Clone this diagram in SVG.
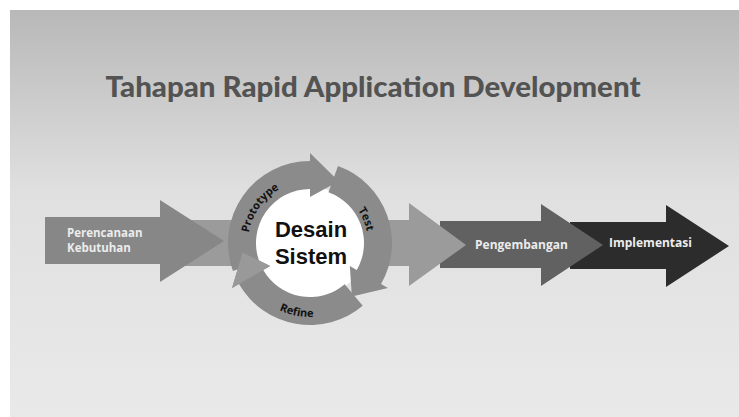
<svg xmlns="http://www.w3.org/2000/svg" width="739" height="417" viewBox="0 0 739 417">
  <defs>
    <linearGradient id="bg" x1="0" y1="0" x2="0" y2="1">
      <stop offset="0" stop-color="#b8b8b8"/>
      <stop offset="0.45" stop-color="#e0e0e0"/>
      <stop offset="1" stop-color="#e9e9e9"/>
    </linearGradient>
    <path id="arcPrototype" d="M 248.94 253.76 A 62 62 0 0 1 299.24 181.94"/>
    <path id="arcTest" d="M 344.91 196.68 A 58 58 0 0 1 367.57 250.07"/>
    <path id="arcRefine" d="M 264.44 301.31 A 74 74 0 0 0 337.72 311.61"/>
  </defs>
  <style>
    .title { font-family: "Lato", "Open Sans", sans-serif; font-weight: 900; font-size: 28px; fill: #535353; }
    .lbl { font-family: "Open Sans", "Liberation Sans", sans-serif; font-weight: 700; fill: #ececec; }
    .core { font-family: "Liberation Sans", "Open Sans", sans-serif; font-weight: 700; font-size: 22px; fill: #111111; }
    .arc { font-family: "Open Sans", "Liberation Sans", sans-serif; font-weight: 700; font-size: 11px; fill: #111111; }
    .ring { fill: #8b8b8b; }
  </style>

  <!-- slide background -->
  <rect x="0" y="0" width="739" height="417" fill="#ffffff"/>
  <rect x="10" y="10" width="729" height="407" fill="url(#bg)"/>

  <text class="title" x="373" y="97" text-anchor="middle" textLength="535" lengthAdjust="spacingAndGlyphs">Tahapan Rapid Application Development</text>

  <!-- process arrows, drawn back to front -->
  <g id="implementasi">
    <path d="M 570 222 L 666 222 L 666 205 L 729 246 L 666 287 L 666 269 L 570 269 Z" fill="#2c2c2c"/>
    <text class="lbl" x="609" y="247" font-size="12">Implementasi</text>
  </g>

  <g id="pengembangan">
    <path d="M 440 221 L 541 221 L 541 204 L 603 245 L 541 286 L 541 268 L 440 268 Z" fill="#616161"/>
    <text class="lbl" x="475" y="249" font-size="12">Pengembangan</text>
  </g>

  <g id="desain-arrow">
    <path d="M 180 220 L 409 220 L 409 203 L 466 245 L 409 286 L 409 266 L 180 266 Z" fill="#9b9b9b"/>
  </g>

  <g id="perencanaan">
    <path d="M 45 217 L 160 217 L 160 200 L 224 241 L 160 282 L 160 264 L 45 264 Z" fill="#878787"/>
    <text class="lbl" x="67" y="237" font-size="11.5">Perencanaan</text>
    <text class="lbl" x="67" y="252" font-size="11.5">Kebutuhan</text>
  </g>

  <!-- design cycle: three curved arrows around a white core -->
  <g id="desain-sistem">
    <circle cx="310" cy="243" r="56" fill="#ffffff"/>
    <path class="ring" d="M 232.94 271.04 A 82 82 0 0 1 310 161 L 310 153 L 338.74 181.37 L 310 197 L 310 189 A 54 54 0 0 0 259.26 261.47 Z"/>
    <path class="ring" d="M 338.04 165.94 A 82 82 0 0 1 381.01 284 L 387.94 288 L 351.87 296.58 L 349.84 266 L 356.76 270 A 54 54 0 0 0 328.47 192.26 Z"/>
    <path class="ring" d="M 362.71 305.81 A 82 82 0 0 1 238.99 284 L 232.06 288 L 242.66 252.47 L 270.16 266 L 263.24 270 A 54 54 0 0 0 344.71 284.36 Z"/>
    <path d="M 238.99 284 L 232.06 288 L 242.66 252.47 L 270.16 266 L 263.24 270 Z" fill="#999999"/>
    <text class="core" x="311" y="237" text-anchor="middle">Desain</text>
    <text class="core" x="311" y="264" text-anchor="middle">Sistem</text>
    <text class="arc" text-anchor="middle"><textPath href="#arcPrototype" startOffset="50%">Prototype</textPath></text>
    <text class="arc" text-anchor="middle"><textPath href="#arcTest" startOffset="50%">Test</textPath></text>
    <text class="arc" text-anchor="middle"><textPath href="#arcRefine" startOffset="45%">Refine</textPath></text>
  </g>
</svg>
